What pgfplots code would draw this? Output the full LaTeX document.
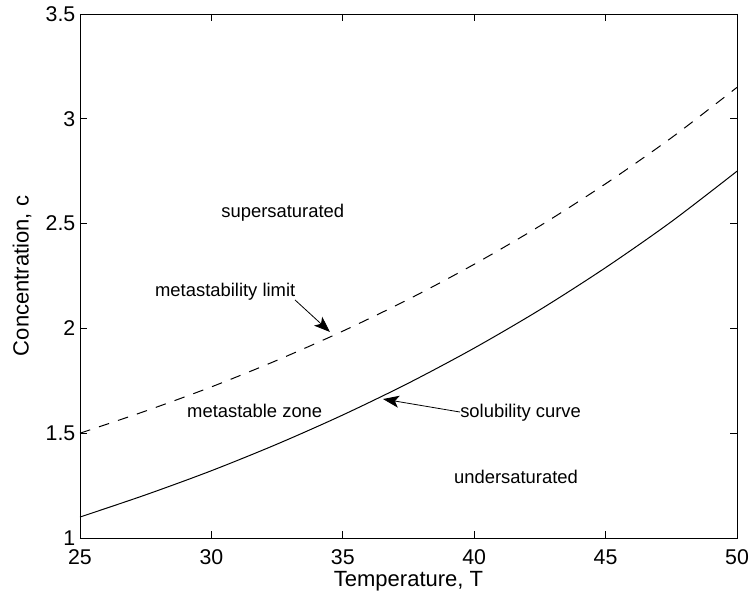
\documentclass[border=0pt]{standalone}
\usepackage{pgfplots}
\pgfplotsset{compat=1.18}
\usepackage{fontspec}
\setmainfont{Liberation Sans}
\usetikzlibrary{arrows.meta}

\begin{document}
\begin{tikzpicture}
\begin{axis}[
  scale only axis,
  width=492.75bp, height=393bp,
  xmin=25, xmax=50, ymin=1, ymax=3.5,
  xtick={25,30,...,50},
  ytick={1,1.5,...,3.5},
  tick align=inside,
  major tick length=5bp,
  axis line style={line width=0.7bp},
  every tick/.style={line width=0.6bp, black},
  tick label style={font=\fontsize{16bp}{19bp}\selectfont},
  xticklabel style={yshift=-5bp},
  /pgf/number format/assume math mode=true,
  label style={font=\fontsize{16.5bp}{19bp}\selectfont},
  xlabel={Temperature, T},
  ylabel={Concentration, c},
  xlabel style={at={(axis description cs:0.5,-0.0935)}, anchor=base},
  ylabel style={at={(axis description cs:-0.088,0.5)}, anchor=center},
  clip=false,
]
% solubility curve
\addplot[black, line width=0.75bp, smooth] coordinates {
  (25,1.100) (27.5,1.206) (30,1.321) (32.5,1.448) (35,1.587) (37.5,1.739)
  (40,1.906) (42.5,2.089) (45,2.290) (47.5,2.509) (50,2.750)
};
% metastability limit
\addplot[black, line width=0.75bp, smooth, dash pattern=on 8bp off 7bp] coordinates {
  (25,1.500) (27.5,1.606) (30,1.721) (32.5,1.848) (35,1.987) (37.5,2.139)
  (40,2.306) (42.5,2.489) (45,2.690) (47.5,2.909) (50,3.150)
};

\begin{scope}[every node/.style={font=\fontsize{13.8bp}{16bp}\selectfont, inner sep=0pt}]
  \node[anchor=base west] at (axis cs:30.37,2.531) {supersaturated};
  \node[anchor=base west] at (axis cs:27.85,2.150) {metastability limit};
  \node[anchor=base west] at (axis cs:29.07,1.573) {metastable zone};
  \node[anchor=base west] at (axis cs:39.46,1.573) {solubility curve};
  \node[anchor=center] at (axis cs:41.59,1.291) {undersaturated};
\end{scope}
\draw[line width=0.6bp, -{Stealth[length=12bp,width=9bp,inset=3bp]}]
  (axis cs:33.18,2.136) -- (axis cs:34.51,1.983);
\draw[line width=0.6bp, -{Stealth[length=12bp,width=9bp,inset=3bp]}]
  (axis cs:39.46,1.601) -- (axis cs:36.53,1.663);
\end{axis}
\pgfresetboundingbox
\path ([shift={(-60bp,-42.75bp)}]current axis.south west)
  rectangle ([shift={(10.5bp,10.5bp)}]current axis.north east);
\end{tikzpicture}
\end{document}
